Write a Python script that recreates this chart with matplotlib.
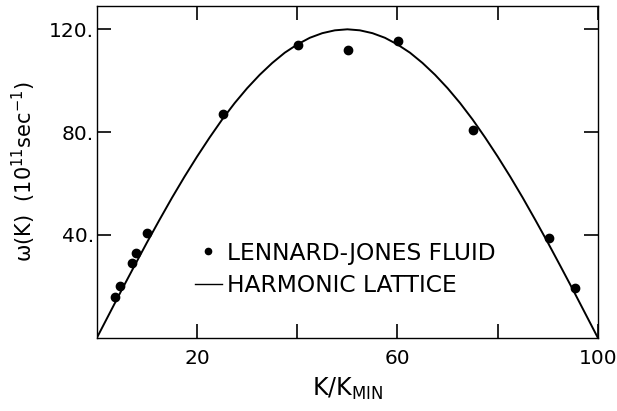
import matplotlib

matplotlib.use("Agg")

import matplotlib.pyplot as plt
from matplotlib.lines import Line2D

# Lennard-Jones fluid points (K/K_min, omega in 1e11 / sec)
lj_k = [3.6, 4.6, 7.0, 7.9, 10.0, 25.1, 40.2, 50.2, 60.2, 75.1, 90.2, 95.4]
lj_omega = [15.7, 20.0, 29.3, 33.0, 40.8, 87.2, 113.9, 111.8, 115.5, 80.9, 38.7, 19.2]

# harmonic lattice curve, every 2.5 units
lattice_k = [0, 2.5, 5, 7.5, 10, 12.5, 15, 17.5, 20, 22.5, 25, 27.5, 30, 32.5, 35,
             37.5, 40, 42.5, 45, 47.5, 50, 52.5, 55, 57.5, 60, 62.5, 65, 67.5, 70,
             72.5, 75, 77.5, 80, 82.5, 85, 87.5, 90, 92.5, 95, 97.5, 100]
lattice_omega = [0.0, 9.4, 18.8, 28.0, 37.1, 45.9, 54.5, 62.7, 70.5, 77.9, 84.9,
                 91.3, 97.1, 102.3, 106.9, 110.9, 114.1, 116.7, 118.5, 119.6, 120.0,
                 119.6, 118.5, 116.7, 114.1, 110.9, 106.9, 102.3, 97.1, 91.3, 84.9,
                 77.9, 70.5, 62.7, 54.5, 45.9, 37.1, 28.0, 18.8, 9.4, 0.0]

x_ticks = [20, 40, 60, 80, 100]
x_tick_labels = ["20", "", "60", "", "100"]
y_ticks = [40, 80, 120]
y_tick_labels = ["40.", "80.", "120."]

plt.rcParams["mathtext.fontset"] = "dejavusans"

figure = plt.figure(figsize=(6.17, 4.11), dpi=100)
axis = figure.add_axes([0.157, 0.178, 0.812, 0.807])

axis.plot(lattice_k, lattice_omega, color="black", linewidth=1.4)
axis.plot(lj_k, lj_omega, linestyle="none", marker="o", markersize=6, color="black")

axis.set_xlim(0, 100)
axis.set_ylim(0, 129)
axis.set_xticks(x_ticks)
axis.set_xticklabels(x_tick_labels)
axis.set_yticks(y_ticks)
axis.set_yticklabels(y_tick_labels)
axis.tick_params(direction="in", length=10, width=1.2, labelsize=14.5,
                 top=True, right=True)
axis.tick_params(axis="x", pad=8)
axis.tick_params(axis="y", pad=2)
for spine in axis.spines.values():
    spine.set_linewidth(1.0)

axis.set_xlabel(r"K/K$_{\mathregular{MIN}}$", fontsize=17, labelpad=6)
axis.set_ylabel(r"ω(K)  (10$^{\mathregular{11}}$sec$^{\mathregular{-1}}$)", fontsize=15,
                labelpad=8)

handles = [
    Line2D([], [], linestyle="none", marker="o", markersize=4.5, color="black"),
    Line2D([], [], color="black", linewidth=1.0),
]
axis.legend(handles, ["LENNARD-JONES FLUID", "HARMONIC LATTICE"],
            loc="upper left", bbox_to_anchor=(0.196, 0.29), frameon=False,
            borderpad=0, borderaxespad=0, fontsize=16.8, handlelength=1.15,
            handletextpad=0.2, labelspacing=0.4)

figure.savefig("out.png", dpi=100)
plt.close(figure)
